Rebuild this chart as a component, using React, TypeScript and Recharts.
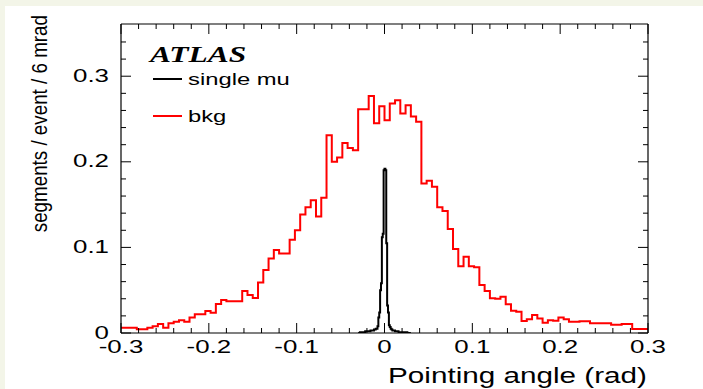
import React from 'react';
import { ComposedChart, Line, XAxis, YAxis, Legend } from 'recharts';

// Background segments per 6 mrad bin, from -0.3 to 0.3 rad (100 bins)
const BKG_BIN_WIDTH = 0.006;
const BKG_VALUES = [
  0.006, 0.006, 0.006, 0.0043, 0.0043, 0.006, 0.0078, 0.0105, 0.006, 0.0113,
  0.013, 0.015, 0.013, 0.018, 0.022, 0.022, 0.0257, 0.0237, 0.034, 0.0385,
  0.037, 0.037, 0.037, 0.049, 0.0444, 0.041, 0.059, 0.0735, 0.087, 0.097,
  0.093, 0.093, 0.109, 0.12, 0.1385, 0.147, 0.155, 0.136, 0.158, 0.231,
  0.2, 0.205, 0.222, 0.216, 0.2136, 0.2615, 0.2615, 0.277, 0.245, 0.265,
  0.2486, 0.268, 0.272, 0.2565, 0.266, 0.253, 0.2467, 0.1747, 0.178, 0.171,
  0.147, 0.1424, 0.1214, 0.098, 0.078, 0.089, 0.078, 0.0767, 0.056, 0.049,
  0.0405, 0.04, 0.0424, 0.0335, 0.026, 0.0249, 0.014, 0.016, 0.021, 0.017,
  0.012, 0.015, 0.0144, 0.018, 0.016, 0.013, 0.013, 0.0137, 0.0137, 0.0113,
  0.0113, 0.0113, 0.0113, 0.0095, 0.0095, 0.0105, 0.0105, 0.0047, 0.0047, 0.0047,
];
const BKG_START = -0.3;

// Single muon segments, 1 mrad bins from -0.03 to 0.03 rad
const MU_BIN_WIDTH = 0.001;
const MU_START = -0.03;
const MU_VALUES = [
  0, 0, 0.001, 0.001, 0.001, 0.001, 0.001, 0.001, 0.002, 0.002,
  0.002, 0.002, 0.002, 0.002, 0.003, 0.003, 0.003, 0.003, 0.004, 0.004,
  0.005, 0.005, 0.008, 0.018, 0.024, 0.05, 0.058, 0.112, 0.116, 0.19,
  0.192, 0.19, 0.105, 0.032, 0.024, 0.009, 0.007, 0.005, 0.004, 0.003,
  0.003, 0.003, 0.002, 0.002, 0.002, 0.002, 0.001, 0.001, 0.001, 0.001,
  0.001, 0.001, 0.001, 0.001, 0.001, 0.001, 0, 0, 0, 0,
];

const SERIES_NAMES = ['single mu', 'bkg'];

const X_TICKS = [
  -0.3, -0.28, -0.26, -0.24, -0.22, -0.2, -0.18, -0.16, -0.14, -0.12,
  -0.1, -0.08, -0.06, -0.04, -0.02, 0, 0.02, 0.04, 0.06, 0.08,
  0.1, 0.12, 0.14, 0.16, 0.18, 0.2, 0.22, 0.24, 0.26, 0.28, 0.3,
];
const Y_TICKS = [
  0, 0.02, 0.04, 0.06, 0.08, 0.1, 0.12, 0.14, 0.16, 0.18,
  0.2, 0.22, 0.24, 0.26, 0.28, 0.3, 0.32, 0.34,
];

const X_TITLE = 'Pointing angle (rad)';
const Y_TITLE = 'segments / event / 6 mrad';

const FONT = '"Liberation Sans", Arial, sans-serif';
const STRETCH = 1.4;

// histogram outline as step points: left edge of each bin, plus closing edge
const toSteps = (start: number, width: number, values: number[]) => {
  const pts = values.map((v, i) => ({ x: start + i * width, y: v }));
  pts.push({ x: start + values.length * width, y: values[values.length - 1] });
  return pts;
};

const bkgData = toSteps(BKG_START, BKG_BIN_WIDTH, BKG_VALUES);
const muData = toSteps(MU_START, MU_BIN_WIDTH, MU_VALUES);

const isMajor = (v: number) => Math.abs(v * 10 - Math.round(v * 10)) < 1e-6;

const XTick = (props: any) => {
  const { x, y, payload, side } = props;
  const v = payload.value;
  const major = isMajor(v);
  const len = major ? 10 : 5;
  const dir = side === 'top' ? 1 : -1;
  return (
    <g>
      <line x1={x} y1={y} x2={x} y2={y + dir * len} stroke="#000" strokeWidth={1} />
      {side === 'bottom' && major && (
        <text
          transform={`translate(${x},${y + 20}) scale(${STRETCH},1)`}
          textAnchor="middle"
          fontSize={18.5}
          fontFamily={FONT}
          fill="#000"
        >
          {String(v)}
        </text>
      )}
    </g>
  );
};

const YTick = (props: any) => {
  const { x, y, payload, side } = props;
  const v = payload.value;
  const major = isMajor(v);
  const len = major ? 10 : 5;
  const dir = side === 'right' ? -1 : 1;
  return (
    <g>
      <line x1={x} y1={y} x2={x + dir * len} y2={y} stroke="#000" strokeWidth={1} />
      {side === 'left' && major && (
        <text
          transform={`translate(${x - 12},${y + 5.5}) scale(${STRETCH},1)`}
          textAnchor="end"
          fontSize={18.5}
          fontFamily={FONT}
          fill="#000"
        >
          {String(v)}
        </text>
      )}
    </g>
  );
};

const XTitle = (props: any) => {
  const { viewBox } = props;
  return (
    <text
      transform={`translate(${viewBox.x + viewBox.width - 1},${viewBox.y + 50}) scale(${STRETCH},1)`}
      textAnchor="end"
      fontSize={21.2}
      fontFamily={FONT}
      fill="#000"
    >
      {X_TITLE}
    </text>
  );
};

const YTitle = (props: any) => {
  const { viewBox } = props;
  return (
    <text
      transform={`translate(${viewBox.x - 73},${viewBox.y - 9}) rotate(-90) scale(1,1.15)`}
      textAnchor="end"
      fontSize={18.8}
      fontFamily={FONT}
      fill="#000"
    >
      {Y_TITLE}
    </text>
  );
};

const LegendBox = (props: any) => {
  const items = [...(props.payload || [])].sort(
    (a: any, b: any) => SERIES_NAMES.indexOf(a.value) - SERIES_NAMES.indexOf(b.value)
  );
  return (
    <svg width={320} height={140} style={{ display: 'block' }}>
      <text
        transform={`translate(150,62) scale(${STRETCH},1)`}
        fontSize={22.5}
        fontFamily='"Liberation Serif", "Times New Roman", serif'
        fontWeight="bold"
        fontStyle="italic"
        fill="#000"
      >
        ATLAS
      </text>
      {items.map((item: any, i: number) => {
        const cy = 79 + i * 37;
        return (
          <g key={item.value}>
            <line x1={153} y1={cy} x2={182} y2={cy} stroke={item.color} strokeWidth={2} />
            <text
              transform={`translate(188,${cy + 6}) scale(${STRETCH},1)`}
              fontSize={17}
              fontFamily={FONT}
              fill="#000"
            >
              {item.value}
            </text>
          </g>
        );
      })}
    </svg>
  );
};

const axisStroke = { stroke: '#000', strokeWidth: 1.2 };

export default function App() {
  return (
    <div
      style={{
        position: 'absolute',
        left: 0,
        top: 0,
        width: 703,
        height: 389,
        background: '#f3f5e8',
      }}
    >
      <div style={{ position: 'absolute', left: 5, top: 6, width: 698, height: 383, background: '#fff' }} />
      <div style={{ position: 'absolute', left: 0, top: 0 }}>
        <ComposedChart
          width={703}
          height={389}
          margin={{ top: 23, right: 54, bottom: 55, left: 120 }}
        >
          <XAxis
            xAxisId="bottom"
            dataKey="x"
            type="number"
            domain={[-0.3, 0.3]}
            ticks={X_TICKS}
            interval={0}
            height={1}
            tickSize={0}
            tickMargin={0}
            tickLine={false}
            axisLine={axisStroke}
            tick={(p: any) => <XTick {...p} side="bottom" />}
            label={<XTitle />}
            allowDataOverflow
          />
          <XAxis
            xAxisId="top"
            orientation="top"
            dataKey="x"
            type="number"
            domain={[-0.3, 0.3]}
            ticks={X_TICKS}
            interval={0}
            height={1}
            tickSize={0}
            tickMargin={0}
            tickLine={false}
            axisLine={axisStroke}
            tick={(p: any) => <XTick {...p} side="top" />}
            allowDataOverflow
          />
          <YAxis
            yAxisId="left"
            type="number"
            domain={[0, 0.361]}
            ticks={Y_TICKS}
            interval={0}
            width={1}
            tickSize={0}
            tickMargin={0}
            tickLine={false}
            axisLine={axisStroke}
            tick={(p: any) => <YTick {...p} side="left" />}
            label={<YTitle />}
            allowDataOverflow
          />
          <YAxis
            yAxisId="right"
            orientation="right"
            type="number"
            domain={[0, 0.361]}
            ticks={Y_TICKS}
            interval={0}
            width={1}
            tickSize={0}
            tickMargin={0}
            tickLine={false}
            axisLine={axisStroke}
            tick={(p: any) => <YTick {...p} side="right" />}
            allowDataOverflow
          />
          <Legend
            layout="horizontal"
            verticalAlign="middle"
            align="center"
            content={<LegendBox />}
            wrapperStyle={{ left: 0, top: 0, width: 320, height: 140 }}
          />
          <Line
            name="single mu"
            data={muData}
            dataKey="y"
            xAxisId="bottom"
            yAxisId="left"
            type="stepAfter"
            stroke="#000"
            strokeWidth={2}
            dot={false}
            isAnimationActive={false}
          />
          <Line
            name="bkg"
            data={bkgData}
            dataKey="y"
            xAxisId="bottom"
            yAxisId="left"
            type="stepAfter"
            stroke="#ff0000"
            strokeWidth={2}
            dot={false}
            isAnimationActive={false}
          />
        </ComposedChart>
      </div>
    </div>
  );
}
